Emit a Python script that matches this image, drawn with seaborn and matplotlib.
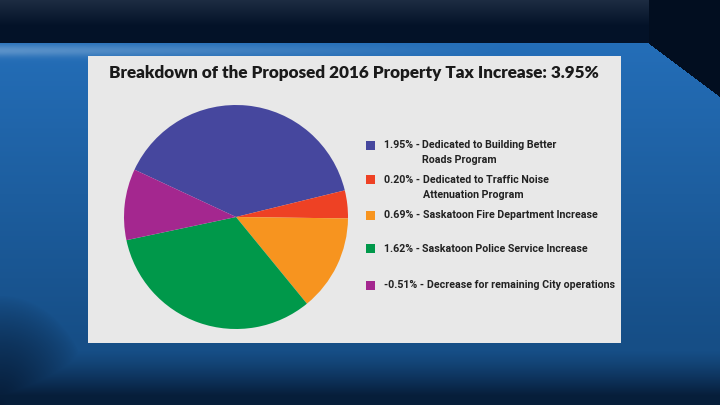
import numpy as np
import matplotlib
matplotlib.use('Agg')
import matplotlib.pyplot as plt
from matplotlib.patches import Rectangle
import seaborn as sns

# ── Data ────────────────────────────────────────────────────────────────────
shares = [1.95, 0.20, 0.69, 1.62, -0.51]
descriptions = [
    'Dedicated to Building Better\nRoads Program',
    'Dedicated to Traffic Noise\nAttenuation Program',
    'Saskatoon Fire Department Increase',
    'Saskatoon Police Service Increase',
    'Decrease for remaining City operations',
]
colors = ['#46479E', '#EE4124', '#F7941F', '#00984A', '#A4278F']
title = 'Breakdown of the Proposed 2016 Property Tax Increase: 3.95%'

sns.set_style('white')
plt.rcParams['font.family'] = ['DejaVu Sans']

W, H = 720, 405
fig = plt.figure(figsize=(W / 100, H / 100), dpi=100)

# ── TV-style background ─────────────────────────────────────────────────────
yy, xx = np.mgrid[0:H, 0:W].astype(float)
top = np.array([0x24, 0x6e, 0xb8]) / 255
low = np.array([0x16, 0x4e, 0x86]) / 255
navy = np.array([0x03, 0x12, 0x28]) / 255
t = np.clip((yy - 43) / 300, 0, 1)[..., None]
img = top * (1 - t) + low * t
# light streak just under the top band
streak = np.exp(-((yy - 50) / 6) ** 2) * np.clip(1 - xx / 500, 0, 1) * 0.25
img = img + streak[..., None] * (1 - img)
# bottom / bottom-left vignette
vig = np.clip((yy - 350) / 45, 0, 1) ** 1.2 * 0.8
d = np.hypot(xx / 90, (H - yy) / 110)
vig = np.maximum(vig, np.clip(1 - d, 0, 1) ** 0.8 * 0.85)
img = img * (1 - vig[..., None]) + navy * vig[..., None]
# top band
band = yy < 43
shade = np.clip(1 - yy / 25, 0, 1)[..., None] * 0.10
topband = navy + shade
img = np.where(band[..., None], topband, img)
# right diagonal dark corner
diag = (yy < 43 + (xx - 648) * (54 / 72)) & (xx > 648)
img = np.where(diag[..., None], navy * 0.8, img)
bg = fig.add_axes([0, 0, 1, 1])
bg.imshow(np.clip(img, 0, 1), aspect='auto', extent=(0, W, H, 0))
bg.set_axis_off()

# ── Card ────────────────────────────────────────────────────────────────────
fig.patches.append(Rectangle((88 / W, 1 - 343 / H), 533 / W, 287 / H,
                             transform=fig.transFigure, facecolor='#E8E8E8',
                             edgecolor='none', zorder=1))

fig.text(354 / W, 1 - 73 / H, title, ha='center', va='center',
         fontsize=12.3, fontweight='heavy', color='#1a1a1a',
         family=['Lato', 'DejaVu Sans'], zorder=3)

# ── Pie ─────────────────────────────────────────────────────────────────────
cx, cy, r = 236, 217, 112
ax = fig.add_axes([(cx - r) / W, 1 - (cy + r) / H, 2 * r / W, 2 * r / H])
ax.pie(np.abs(shares), colors=colors, startangle=155, counterclock=False,
       wedgeprops={'linewidth': 0})
ax.set_xlim(-1, 1)
ax.set_ylim(-1, 1)
ax.set_zorder(2)

# ── Legend (manual, hanging indent under the description) ──────────────────
row_y = [145, 180, 215, 249, 285]
leg_font = dict(fontsize=7.7, fontweight='bold', color='#222222',
                family=['Roboto', 'DejaVu Sans'], zorder=3)
renderer = fig.canvas.get_renderer()
for val, desc, col, y in zip(shares, descriptions, colors, row_y):
    fig.patches.append(Rectangle((366 / W, 1 - (y + 4.5) / H), 9 / W, 9 / H,
                                 transform=fig.transFigure, facecolor=col,
                                 edgecolor='none', zorder=3))
    prefix = fig.text(384 / W, 1 - y / H, f'{val:.2f}% - ',
                      ha='left', va='center', **leg_font)
    x_desc = prefix.get_window_extent(renderer).x1 / W
    lines = desc.split('\n')
    for k, line in enumerate(lines):
        fig.text(x_desc, 1 - (y + 15 * k) / H, line,
                 ha='left', va='center', **leg_font)

plt.savefig('out.png', dpi=100)
